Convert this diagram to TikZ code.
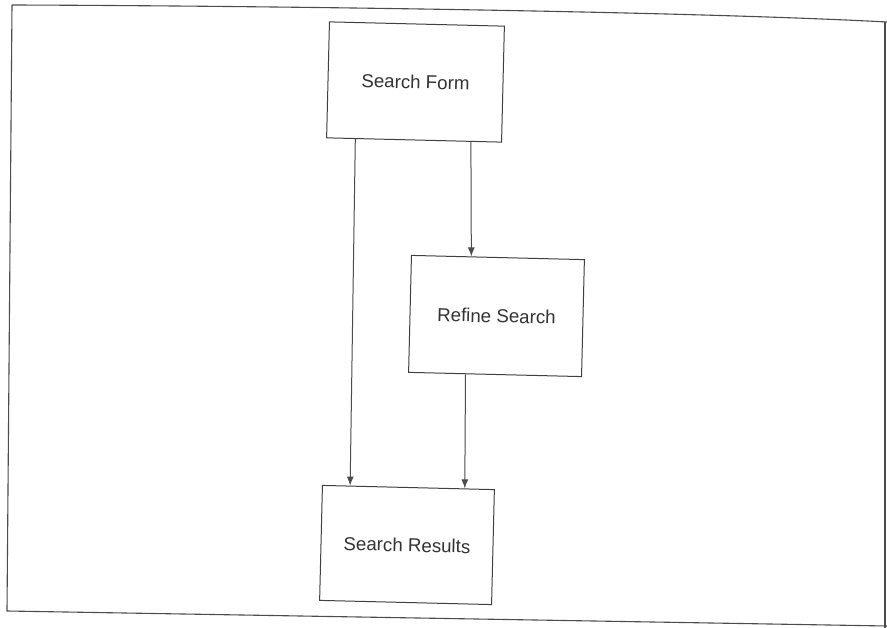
\documentclass[tikz,border=0pt]{standalone}
\usepackage{fontspec}
\setmainfont{Liberation Sans}
\usetikzlibrary{arrows.meta,calc}
\begin{document}
\begin{tikzpicture}[x=1pt,y=-1pt,
  box/.style={draw=black!75, line width=1pt, fill=white, inner sep=0pt,
    rotate=-1.4, font=\fontsize{18.7}{22}\selectfont, text=black!80},
  link/.style={draw=black!70, line width=1pt, -{Latex[length=9pt,width=7pt]}}]
\useasboundingbox[fill=white] (0,0) rectangle (887,628);
% outer frame
\draw[black!70, line width=1.1pt]
  (12,5) .. controls (300,6) and (700,12) .. (887,22);
\draw[black!70, line width=1.1pt] (12,5) -- (7,611) -- (887,626);
\draw[black!70, line width=1.1pt] (885,22) -- (885,628);
% pages
\node[box, minimum width=175pt, minimum height=116pt] (form) at (415.5,82) {Search Form};
\node[box, minimum width=173pt, minimum height=117pt] (refine) at (496.5,316) {Refine Search};
\node[box, minimum width=172pt, minimum height=115pt] (results) at (407,545) {Search Results};
% transitions
\draw[link] ($(form.south west)!0.166!(form.south east)$) -- ($(results.north west)!0.163!(results.north east)$);
\draw[link] ($(form.south west)!0.823!(form.south east)$) -- ($(refine.north west)!0.347!(refine.north east)$);
\draw[link] ($(refine.south west)!0.33!(refine.south east)$) -- ($(results.north west)!0.826!(results.north east)$);
\end{tikzpicture}
\end{document}
